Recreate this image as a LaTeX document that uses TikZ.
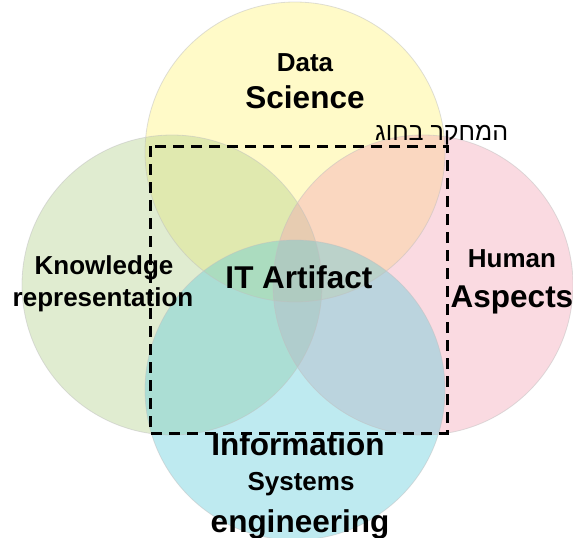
\documentclass[tikz,border=0pt]{standalone}
\usepackage{fontspec}
\setmainfont{Liberation Sans}
\newfontfamily\hebfont[Script=Hebrew]{Liberation Sans}
\TeXXeTstate=1
\usetikzlibrary{calc}
\definecolor{ylw}{RGB}{255,242,118}
\definecolor{grn}{RGB}{178,208,138}
\definecolor{pnk}{RGB}{243,163,180}
\definecolor{cyn}{RGB}{93,203,218}
\tikzset{
  ring/.style={fill=#1,fill opacity=0.4},
  small/.style={font=\bfseries\fontsize{26}{30}\selectfont,anchor=base,inner sep=0pt},
  big/.style={font=\bfseries\fontsize{31.5}{36}\selectfont,anchor=base,inner sep=0pt},
  frame/.style={line width=3pt,dash pattern=on 11pt off 7pt}
}
\begin{document}
\begin{tikzpicture}[x=1pt,y=-1pt]
                \useasboundingbox(0,0)rectangle(573,538);
                \coordinate(DS)at(295,152);
                \coordinate(KR)at(172,285);
                \coordinate(HA)at(423,285);
                \coordinate(ISE)at(295,390);
                \fill[ring=ylw](DS)circle(150);
                \fill[ring=grn](KR)circle(150);
                \fill[ring=pnk](HA)circle(150);
                \fill[ring=cyn](ISE)circle(150);
                \draw[draw=black!25,draw opacity=0.5,line width=0.8pt](DS)circle(150)(KR)circle(150)(HA)circle(150)(ISE)circle(150);
                \coordinate(NW)at(150,146);
                \coordinate(SE)at(447,433);
                \draw[frame](NW)rectangle(SE);
                \node[anchor=base west,inner sep=0pt,font=\hebfont\fontsize{25}{29}\selectfont](dept)at(375,140){\beginR המחקר בחוג\endR};
                \node[small](data)at(305,71){Data};
                \node[big](science)at(305,108){Science};
                \node[small](know)at(104,274){Knowledge};
                \node[small](repr)at(103,306){representation};
                \node[small](human)at(512,267){Human};
                \node[big](aspects)at(512,307){Aspects};
                \node[big](itart)at(299,288){IT Artifact};
                \node[big](info)at(298,455){Information};
                \node[small](sys)at(301,490){Systems};
                \node[big](eng)at(300,532){engineering};
            \end{tikzpicture}
\end{document}
